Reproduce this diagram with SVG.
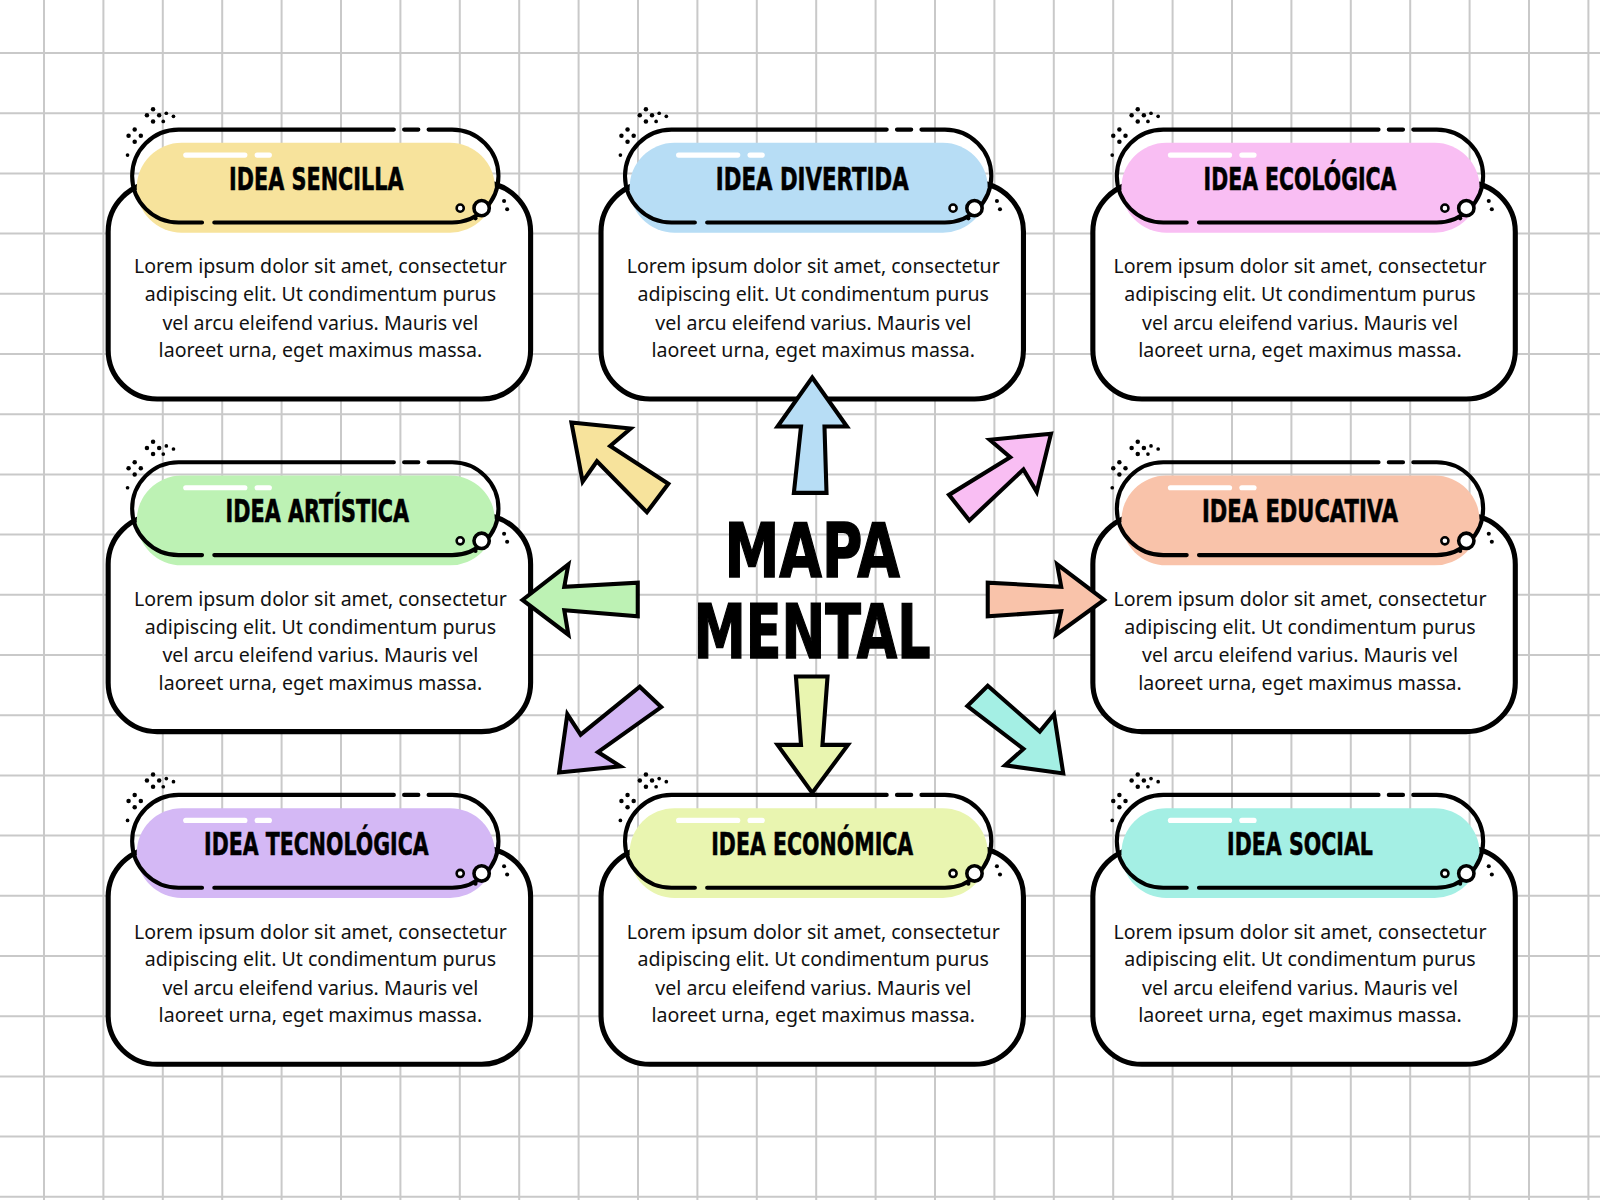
<svg xmlns="http://www.w3.org/2000/svg" xmlns:xlink="http://www.w3.org/1999/xlink" width="1600" height="1200" viewBox="0 0 1600 1200">
<style>
.grid line{stroke:#c9c9c9;stroke-width:2}
.body{fill:#fff;stroke:#000;stroke-width:5}
.ol{fill:none;stroke:#000;stroke-width:4;stroke-linecap:round}
.ttl{font-family:"DejaVu Sans","Liberation Sans",sans-serif;font-weight:bold;font-size:31px;text-anchor:middle;fill:#000;stroke:#000;stroke-width:0.6}
.txt{font-family:"Noto Sans","Open Sans",sans-serif;font-size:19.2px;text-anchor:middle;fill:#111}
.arr{stroke:#000;stroke-width:4;stroke-linejoin:miter}
.big{font-family:"DejaVu Sans","Liberation Sans",sans-serif;font-weight:bold;font-size:74px;text-anchor:middle;fill:#000;stroke:#000;stroke-width:1.5}
</style>
<defs>
<g id="bodyshape"><rect class="body" x="106" y="179" width="414" height="212" rx="48"/></g>
<g id="frame">
<path class="ol" d="M420,127 H443 A45.5 45.5 0 0 1 443,218 H210 M198,218 H175 A45.5 45.5 0 0 1 175,127 H386 M396,127 H410"/>
<line x1="182" y1="152" x2="240" y2="152" stroke="#fff" stroke-width="5" stroke-linecap="round"/>
<line x1="252" y1="152" x2="264" y2="152" stroke="#fff" stroke-width="5" stroke-linecap="round"/>
<circle cx="472" cy="204" r="7.5" fill="#fff" stroke="#000" stroke-width="3.5"/>
<circle cx="451" cy="204" r="3.5" fill="#fff" stroke="#000" stroke-width="2.5"/>
<circle cx="494" cy="197" r="2" fill="#000"/><circle cx="497" cy="205" r="2" fill="#000"/><circle cx="466" cy="214" r="2" fill="#000"/>
<g fill="#000">
<circle cx="150" cy="107" r="2.2"/><circle cx="150" cy="119" r="2.2"/><circle cx="144" cy="113" r="2.2"/><circle cx="156" cy="113" r="2.2"/><circle cx="163" cy="111" r="1.8"/><circle cx="170" cy="114" r="1.8"/><circle cx="160" cy="119" r="1.8"/>
<circle cx="132" cy="127" r="2.2"/><circle cx="132" cy="139" r="2.2"/><circle cx="126" cy="133" r="2.2"/><circle cx="138" cy="133" r="2.2"/><circle cx="125" cy="152" r="1.8"/>
</g>
</g>
</defs>
<rect width="1600" height="1200" fill="#fff"/>
<g class="grid">
<line x1="44" y1="0" x2="44" y2="1200"/><line x1="103.4" y1="0" x2="103.4" y2="1200"/><line x1="162.8" y1="0" x2="162.8" y2="1200"/><line x1="222.2" y1="0" x2="222.2" y2="1200"/><line x1="281.6" y1="0" x2="281.6" y2="1200"/><line x1="341" y1="0" x2="341" y2="1200"/><line x1="400.4" y1="0" x2="400.4" y2="1200"/><line x1="459.8" y1="0" x2="459.8" y2="1200"/><line x1="519.2" y1="0" x2="519.2" y2="1200"/><line x1="578.6" y1="0" x2="578.6" y2="1200"/><line x1="638" y1="0" x2="638" y2="1200"/><line x1="697.4" y1="0" x2="697.4" y2="1200"/><line x1="756.8" y1="0" x2="756.8" y2="1200"/><line x1="816.2" y1="0" x2="816.2" y2="1200"/><line x1="875.6" y1="0" x2="875.6" y2="1200"/><line x1="935" y1="0" x2="935" y2="1200"/><line x1="994.4" y1="0" x2="994.4" y2="1200"/><line x1="1053.8" y1="0" x2="1053.8" y2="1200"/><line x1="1113.2" y1="0" x2="1113.2" y2="1200"/><line x1="1172.6" y1="0" x2="1172.6" y2="1200"/><line x1="1232" y1="0" x2="1232" y2="1200"/><line x1="1291.4" y1="0" x2="1291.4" y2="1200"/><line x1="1350.8" y1="0" x2="1350.8" y2="1200"/><line x1="1410.2" y1="0" x2="1410.2" y2="1200"/><line x1="1469.6" y1="0" x2="1469.6" y2="1200"/><line x1="1529" y1="0" x2="1529" y2="1200"/><line x1="1588.4" y1="0" x2="1588.4" y2="1200"/>
<line x1="0" y1="53" x2="1600" y2="53"/><line x1="0" y1="113.2" x2="1600" y2="113.2"/><line x1="0" y1="173.4" x2="1600" y2="173.4"/><line x1="0" y1="233.6" x2="1600" y2="233.6"/><line x1="0" y1="293.8" x2="1600" y2="293.8"/><line x1="0" y1="354" x2="1600" y2="354"/><line x1="0" y1="414.2" x2="1600" y2="414.2"/><line x1="0" y1="474.4" x2="1600" y2="474.4"/><line x1="0" y1="534.6" x2="1600" y2="534.6"/><line x1="0" y1="594.8" x2="1600" y2="594.8"/><line x1="0" y1="655" x2="1600" y2="655"/><line x1="0" y1="715.2" x2="1600" y2="715.2"/><line x1="0" y1="775.4" x2="1600" y2="775.4"/><line x1="0" y1="835.6" x2="1600" y2="835.6"/><line x1="0" y1="895.8" x2="1600" y2="895.8"/><line x1="0" y1="956" x2="1600" y2="956"/><line x1="0" y1="1016.2" x2="1600" y2="1016.2"/><line x1="0" y1="1076.4" x2="1600" y2="1076.4"/><line x1="0" y1="1136.6" x2="1600" y2="1136.6"/><line x1="0" y1="1196.8" x2="1600" y2="1196.8"/>
</g>
<g transform="scale(1.0204)">
<g id="center">
<text class="big" x="796" y="565" textLength="172" lengthAdjust="spacingAndGlyphs">MAPA</text>
<text class="big" x="796" y="645" textLength="232" lengthAdjust="spacingAndGlyphs">MENTAL</text>
</g>
<g id="n1"><use xlink:href="#bodyshape"/><rect x="134" y="140" width="351" height="88" rx="44" fill="#F7E39C"/><use xlink:href="#frame"/><text class="ttl" x="310" y="186" textLength="171" lengthAdjust="spacingAndGlyphs">IDEA SENCILLA</text><text class="txt" x="314"><tspan x="314" y="268">Lorem ipsum dolor sit amet, consectetur</tspan><tspan x="314" y="295">adipiscing elit. Ut condimentum purus</tspan><tspan x="314" y="323">vel arcu eleifend varius. Mauris vel</tspan><tspan x="314" y="350">laoreet urna, eget maximus massa.</tspan></text></g>
<g id="n2" transform="translate(483,0)"><use xlink:href="#bodyshape"/><rect x="134" y="140" width="351" height="88" rx="44" fill="#B7DDF5"/><use xlink:href="#frame"/><text class="ttl" x="313" y="186" textLength="189" lengthAdjust="spacingAndGlyphs">IDEA DIVERTIDA</text><text class="txt" x="314"><tspan x="314" y="268">Lorem ipsum dolor sit amet, consectetur</tspan><tspan x="314" y="295">adipiscing elit. Ut condimentum purus</tspan><tspan x="314" y="323">vel arcu eleifend varius. Mauris vel</tspan><tspan x="314" y="350">laoreet urna, eget maximus massa.</tspan></text></g>
<g id="n3" transform="translate(965,0)"><use xlink:href="#bodyshape"/><rect x="134" y="140" width="351" height="88" rx="44" fill="#F9BEF3"/><use xlink:href="#frame"/><text class="ttl" x="309" y="186" textLength="189" lengthAdjust="spacingAndGlyphs">IDEA ECOLÓGICA</text><text class="txt" x="309"><tspan x="309" y="268">Lorem ipsum dolor sit amet, consectetur</tspan><tspan x="309" y="295">adipiscing elit. Ut condimentum purus</tspan><tspan x="309" y="323">vel arcu eleifend varius. Mauris vel</tspan><tspan x="309" y="350">laoreet urna, eget maximus massa.</tspan></text></g>
<g id="n4" transform="translate(0,326)"><use xlink:href="#bodyshape"/><rect x="134" y="140" width="351" height="88" rx="44" fill="#BDF2B4"/><use xlink:href="#frame"/><text class="ttl" x="311" y="186" textLength="180" lengthAdjust="spacingAndGlyphs">IDEA ARTÍSTICA</text><text class="txt" x="314"><tspan x="314" y="268">Lorem ipsum dolor sit amet, consectetur</tspan><tspan x="314" y="295">adipiscing elit. Ut condimentum purus</tspan><tspan x="314" y="323">vel arcu eleifend varius. Mauris vel</tspan><tspan x="314" y="350">laoreet urna, eget maximus massa.</tspan></text></g>
<g id="n5" transform="translate(965,326)"><use xlink:href="#bodyshape"/><rect x="134" y="140" width="351" height="88" rx="44" fill="#F9C3AA"/><use xlink:href="#frame"/><text class="ttl" x="309" y="186" textLength="192" lengthAdjust="spacingAndGlyphs">IDEA EDUCATIVA</text><text class="txt" x="309"><tspan x="309" y="268">Lorem ipsum dolor sit amet, consectetur</tspan><tspan x="309" y="295">adipiscing elit. Ut condimentum purus</tspan><tspan x="309" y="323">vel arcu eleifend varius. Mauris vel</tspan><tspan x="309" y="350">laoreet urna, eget maximus massa.</tspan></text></g>
<g id="n6" transform="translate(0,652)"><use xlink:href="#bodyshape"/><rect x="134" y="140" width="351" height="88" rx="44" fill="#D4B8F5"/><use xlink:href="#frame"/><text class="ttl" x="310" y="186" textLength="220" lengthAdjust="spacingAndGlyphs">IDEA TECNOLÓGICA</text><text class="txt" x="314"><tspan x="314" y="268">Lorem ipsum dolor sit amet, consectetur</tspan><tspan x="314" y="295">adipiscing elit. Ut condimentum purus</tspan><tspan x="314" y="323">vel arcu eleifend varius. Mauris vel</tspan><tspan x="314" y="350">laoreet urna, eget maximus massa.</tspan></text></g>
<g id="n7" transform="translate(483,652)"><use xlink:href="#bodyshape"/><rect x="134" y="140" width="351" height="88" rx="44" fill="#E9F5B0"/><use xlink:href="#frame"/><text class="ttl" x="313" y="186" textLength="198" lengthAdjust="spacingAndGlyphs">IDEA ECONÓMICA</text><text class="txt" x="314"><tspan x="314" y="268">Lorem ipsum dolor sit amet, consectetur</tspan><tspan x="314" y="295">adipiscing elit. Ut condimentum purus</tspan><tspan x="314" y="323">vel arcu eleifend varius. Mauris vel</tspan><tspan x="314" y="350">laoreet urna, eget maximus massa.</tspan></text></g>
<g id="n8" transform="translate(965,652)"><use xlink:href="#bodyshape"/><rect x="134" y="140" width="351" height="88" rx="44" fill="#A4EFE4"/><use xlink:href="#frame"/><text class="ttl" x="309" y="186" textLength="143" lengthAdjust="spacingAndGlyphs">IDEA SOCIAL</text><text class="txt" x="309"><tspan x="309" y="268">Lorem ipsum dolor sit amet, consectetur</tspan><tspan x="309" y="295">adipiscing elit. Ut condimentum purus</tspan><tspan x="309" y="323">vel arcu eleifend varius. Mauris vel</tspan><tspan x="309" y="350">laoreet urna, eget maximus massa.</tspan></text></g>
<g id="connectors">
<polygon class="arr" fill="#B7DDF5" points="796,370 830,418 808,418 810,483 778,483 785,418 762,418"/>
<polygon class="arr" fill="#F7E39C" points="560,414 618,420 598,437 655,474 634,502 585,452 571,472"/>
<polygon class="arr" fill="#F9BEF3" points="1030,425 970,431 990,448 930,485 950,510 1003,460 1016,482"/>
<polygon class="arr" fill="#BDF2B4" points="512,588 557,553 553,575 625,571 625,604 553,598 557,622"/>
<polygon class="arr" fill="#F9C3AA" points="1082,588 1036,553 1040,575 968,571 968,604 1040,599 1035,622"/>
<polygon class="arr" fill="#D4B8F5" points="548,757 556,700 569,720 627,673 648,693 586,737 608,751"/>
<polygon class="arr" fill="#E9F5B0" points="796,777 831,730 806,730 811,663 780,663 785,730 762,730"/>
<polygon class="arr" fill="#A4EFE4" points="1042,758 1033,700 1019,717 968,672 948,692 1003,734 985,750"/>
</g>
</g>
</svg>
